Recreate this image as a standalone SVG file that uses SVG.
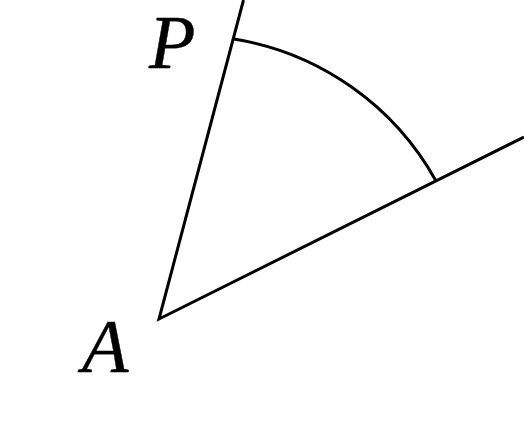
<svg xmlns="http://www.w3.org/2000/svg" width="524" height="423" viewBox="0 0 524 423">
<style>
.ln{fill:none;stroke:#000;stroke-width:3;stroke-linecap:butt;stroke-linejoin:miter}
.lb{font-family:"Liberation Serif","DejaVu Serif",serif;font-style:italic;font-size:76px;fill:#000;stroke:#000;stroke-width:0.4}
</style>
<rect width="524" height="423" fill="#fff"/>
<g id="connectors">
<path class="ln" d="M243.5 0 L159 319 L524 137"/>
<path class="ln" d="M234 39 A283 283 0 0 1 436 181"/>
</g>
<g id="P"><text class="lb" x="149" y="68">P</text></g>
<g id="A"><text class="lb" x="82" y="372">A</text></g>
</svg>
